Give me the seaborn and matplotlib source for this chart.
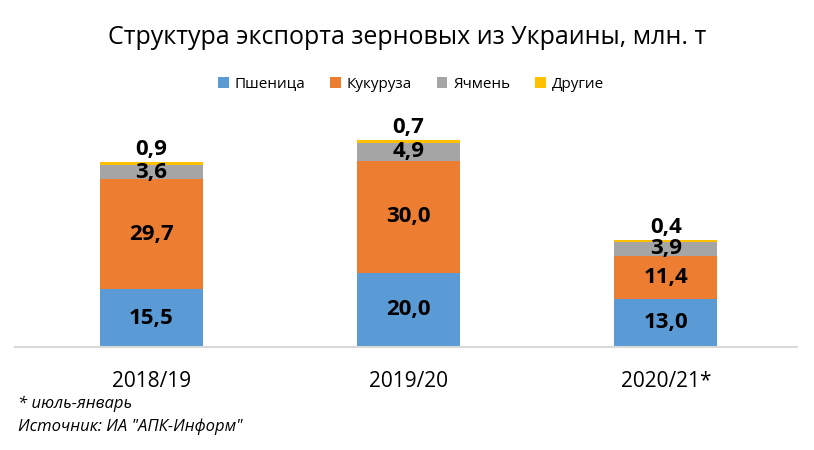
import numpy as np
import pandas as pd
import matplotlib
matplotlib.use("Agg")
import matplotlib.pyplot as plt
import seaborn as sns
from matplotlib.patches import Patch

# Data (млн. т)
seasons = ["2018/19", "2019/20", "2020/21*"]
wheat = [15.5, 20.0, 13.0]
corn = [29.7, 30.0, 11.4]
barley = [3.6, 4.9, 3.9]
other = [0.9, 0.7, 0.4]

series_names = ["Пшеница", "Кукуруза", "Ячмень", "Другие"]
colors = ["#5B9BD5", "#ED7D31", "#A5A5A5", "#FFC000"]

sns.set_style("white")
plt.rcParams["font.family"] = ["Open Sans", "DejaVu Sans"]
plt.rcParams["text.color"] = "black"
plt.rcParams["xtick.color"] = "black"

df = pd.DataFrame({"season": seasons, "wheat": wheat, "corn": corn,
                   "barley": barley, "other": other})
parts = ["wheat", "corn", "barley", "other"]
cum = df[parts].cumsum(axis=1)

fig = plt.figure(figsize=(8.14, 4.5), dpi=100)
ax = fig.add_axes([15 / 814, 103 / 450, 782 / 814, 247 / 450])

# draw cumulative totals from top to bottom so the stacks overlap correctly
for col, c in zip(reversed(parts), reversed(colors)):
    sns.barplot(x=df["season"], y=cum[col], color=c, width=0.4,
                saturation=1, ax=ax, edgecolor="none")

ax.set_xlim(-0.53, 2.51)
ax.set_ylim(0, 66.4)

def fmt(v):
    return f"{v:.1f}".replace(".", ",")

for i in range(len(seasons)):
    bottoms = [0] + list(cum.iloc[i, :-1])
    for j, col in enumerate(parts[:-1]):
        v = df[col].iloc[i]
        ax.text(i, bottoms[j] + v / 2, fmt(v), ha="center", va="center",
                fontsize=16, fontweight="bold", color="black")
    ax.text(i, cum["other"].iloc[i] + 0.7, fmt(df["other"].iloc[i]),
            ha="center", va="bottom", fontsize=16, fontweight="bold", color="black")

for s in ["top", "right", "left"]:
    ax.spines[s].set_visible(False)
ax.spines["bottom"].set_color("#D9D9D9")
ax.spines["bottom"].set_linewidth(1.5)
ax.set_yticks([])
ax.set_xlabel("")
ax.set_ylabel("")
ax.tick_params(axis="x", length=0, labelsize=15, pad=17, labelcolor="black")

fig.text(0.5, 1 - 38 / 450, "Структура экспорта зерновых из Украины, млн. т",
         ha="center", va="center", fontsize=18, color="black")

handles = [Patch(facecolor=c, edgecolor="none") for c in colors]
fig.legend(handles, series_names, loc="center", bbox_to_anchor=(0.505, 1 - 84 / 450),
           ncol=4, frameon=False, fontsize=11, handlelength=0.7, handleheight=0.7,
           columnspacing=1.6, handletextpad=0.4, labelcolor="black")

fig.text(18 / 814, 1 - 404 / 450, "* июль-январь", fontsize=12,
         style="italic", va="center", color="black")
fig.text(18 / 814, 1 - 427 / 450, 'Источник: ИА "АПК-Информ"', fontsize=12,
         style="italic", va="center", color="black")

fig.savefig("out.png", dpi=100)
